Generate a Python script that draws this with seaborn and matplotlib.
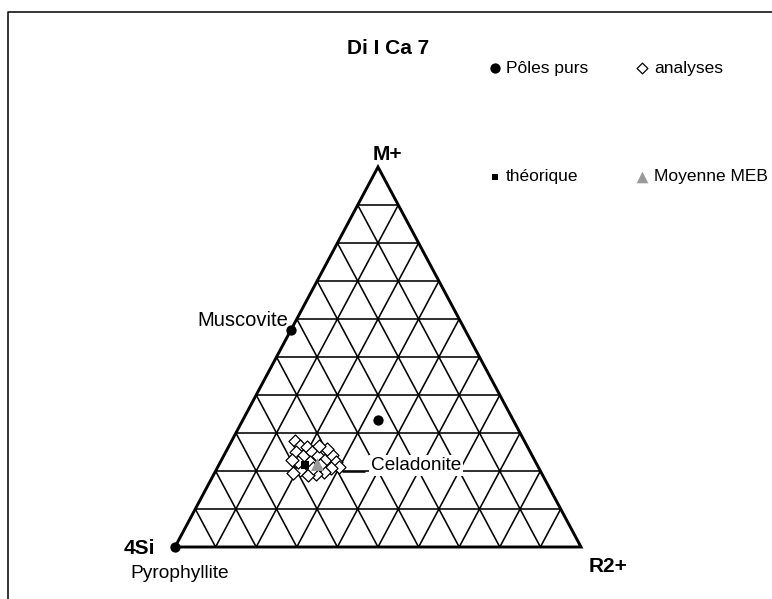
import matplotlib
matplotlib.use("Agg")
import matplotlib.pyplot as plt
from matplotlib.lines import Line2D
import numpy as np
import pandas as pd
import seaborn as sns

sns.set_theme(style="white")
plt.rcParams["font.family"] = ["Liberation Sans", "DejaVu Sans"]

# ---- data (ternary fractions: M+, R2+, 4Si = 1 - M - R) ----
title = "Di I Ca 7"
apex_labels = ["M+", "4Si", "R2+"]

pole_names = ["Muscovite", "Celadonite", "Pyrophyllite"]
pole_m = [0.571, 0.333, 0.0]
pole_r = [0.0, 0.333, 0.0]

analyses_m = [0.279, 0.266, 0.263, 0.250, 0.239, 0.250, 0.239, 0.229, 0.242,
              0.224, 0.211, 0.208, 0.197, 0.192, 0.189, 0.203, 0.195, 0.224,
              0.224, 0.216, 0.258, 0.266, 0.229, 0.208]
analyses_r = [0.156, 0.175, 0.193, 0.173, 0.196, 0.212, 0.233, 0.255, 0.266,
              0.285, 0.299, 0.280, 0.268, 0.251, 0.233, 0.207, 0.193, 0.191,
              0.221, 0.249, 0.245, 0.222, 0.173, 0.236]

theo_m = [0.216]
theo_r = [0.212]
meb_m = [0.218]
meb_r = [0.241]

legend_labels = ["Pôles purs", "analyses", "théorique", "Moyenne MEB"]

n_div = 10


def to_xy(m, r):
    m = np.asarray(m, float)
    r = np.asarray(r, float)
    return r + m / 2.0, m


W, H = 772, 599
fig = plt.figure(figsize=(W / 100, H / 100), dpi=100)
ax = fig.add_axes([0, 0, 1, 1])
# triangle base spans px 175..581 at y=547, apex at y=167
x0, xs = 175.0, 406.0
y0, ys = 547.0, 380.0
ax.set_xlim(-x0 / xs, (W - x0) / xs)
ax.set_ylim((y0 - H) / ys, y0 / ys)
ax.axis("off")

# chart frame
fx, fy = 8 / W, 1 - 12 / H
fig.add_artist(Line2D([fx, fx, 1.02], [-0.02, fy, fy], color="black", lw=1.1,
                      transform=fig.transFigure))

# grid
grid_kw = dict(color="black", lw=1.15, zorder=1, solid_capstyle="butt")
for i in range(1, n_div):
    t = i / n_div
    ax.plot([t / 2, 1 - t / 2], [t, t], **grid_kw)          # constant M+
    ax.plot([t, t + (1 - t) / 2], [0, 1 - t], **grid_kw)    # constant R2+
    ax.plot([1 - t, (1 - t) / 2], [0, 1 - t], **grid_kw)    # constant 4Si
ax.plot([0, 1, 0.5, 0], [0, 0, 1, 0], color="black", lw=2.1, zorder=2,
        solid_joinstyle="miter")

# points
ax_x, ax_y = to_xy(analyses_m, analyses_r)
sns.scatterplot(x=ax_x, y=ax_y, marker="D", s=44, facecolor="white",
                edgecolor="black", linewidth=0.9, ax=ax, zorder=4)

px_, py_ = to_xy(pole_m, pole_r)
sns.scatterplot(x=px_, y=py_, marker="o", s=55, color="black",
                edgecolor="black", linewidth=0, ax=ax, zorder=5)

tx, ty = to_xy(theo_m, theo_r)
sns.scatterplot(x=tx, y=ty, marker="s", s=38, color="black",
                edgecolor="black", linewidth=0, ax=ax, zorder=6)

mx, my = to_xy(meb_m, meb_r)
sns.scatterplot(x=mx, y=my, marker="^", s=85, color="#999999",
                edgecolor="#999999", linewidth=0, ax=ax, zorder=7)

# labels
def pt(xp, yp):
    return (xp - x0) / xs, (y0 - yp) / ys

ax.text(*pt(388, 49), title, ha="center", va="center", fontsize=15,
        fontweight="bold", color="black")
ax.text(*pt(387, 154), apex_labels[0], ha="center", va="center", fontsize=15,
        fontweight="bold", color="black")
ax.text(*pt(155, 549), apex_labels[1], ha="right", va="center", fontsize=15,
        fontweight="bold", color="black")
ax.text(*pt(608, 567), apex_labels[2], ha="center", va="center", fontsize=15,
        fontweight="bold", color="black")

ax.text(*pt(288, 320), pole_names[0], ha="right", va="center", fontsize=14.5,
        color="black", zorder=8)
ax.text(*pt(371, 465.5), pole_names[1], ha="left", va="center", fontsize=13.7,
        color="black", zorder=8,
        bbox=dict(facecolor="white", edgecolor="none", pad=1.5))
ax.plot(*zip(pt(343, 471.5), pt(365, 471.5)), color="black", lw=1.1, zorder=8)
ax.text(*pt(130, 573), pole_names[2], ha="left", va="center", fontsize=13.8,
        color="black")

# legend
leg_kw = dict(ha="left", va="center", fontsize=12.5, color="black")
ax.scatter(*pt(494.5, 68.5), marker="o", s=55, color="black", linewidths=0)
ax.text(*pt(506, 68.5), legend_labels[0], **leg_kw)
ax.scatter(*pt(642.5, 68.5), marker="D", s=30, facecolor="white",
           edgecolor="black", linewidths=0.9)
ax.text(*pt(654, 68.5), legend_labels[1], **leg_kw)
ax.scatter(*pt(494.5, 176.7), marker="s", s=18, color="black", linewidths=0)
ax.text(*pt(506, 176.7), legend_labels[2], **leg_kw)
ax.scatter(*pt(641.5, 176.7), marker="^", s=70, color="#999999", linewidths=0)
ax.text(*pt(654, 176.7), legend_labels[3], **leg_kw)

fig.savefig("out.png", dpi=100, facecolor="white")
